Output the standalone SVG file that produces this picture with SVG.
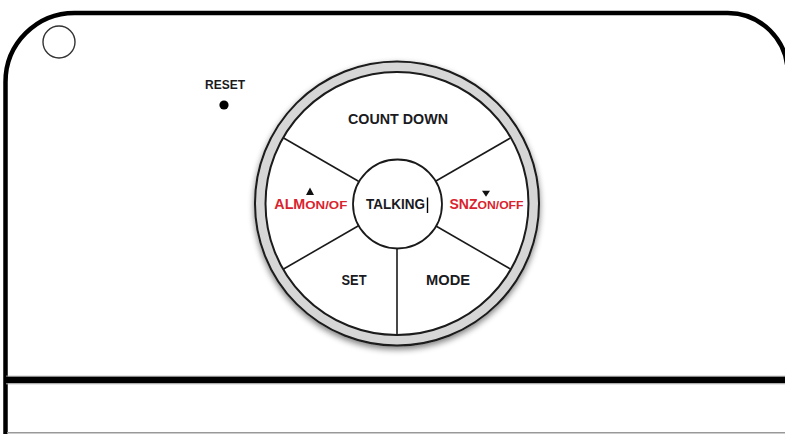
<svg xmlns="http://www.w3.org/2000/svg" width="785" height="434" viewBox="0 0 785 434">
  <defs>
    <style>
      .lbl { font-family: "Liberation Sans", Arial, sans-serif; font-weight: bold; fill: #1a1a22; }
      .red { font-family: "Liberation Sans", Arial, sans-serif; font-weight: bold; fill: #d9232e; }
      .div { stroke: #1a1a1a; stroke-width: 1.6; fill: none; }
    </style>
    <filter id="shadow" x="-20%" y="-20%" width="140%" height="140%">
      <feGaussianBlur in="SourceAlpha" stdDeviation="3"/>
      <feOffset dx="0" dy="3" result="b"/>
      <feComponentTransfer><feFuncA type="linear" slope="0.5"/></feComponentTransfer>
      <feMerge><feMergeNode/><feMergeNode in="SourceGraphic"/></feMerge>
    </filter>
  </defs>
  <rect width="785" height="434" fill="#ffffff"/>

  <g id="body">
    <path d="M5.5,440 L5.5,82 A69,69 0 0 1 74.5,13 L727.5,13 A60,60 0 0 1 787.7,73 L787.7,440" fill="none" stroke="#000" stroke-width="4.5"/>
    <line x1="6" y1="376.2" x2="785" y2="376.2" stroke="#aaa" stroke-width="1"/>
    <rect x="5" y="376.7" width="782" height="6.6" fill="#000"/>
    <line x1="6" y1="383.8" x2="785" y2="383.8" stroke="#aaa" stroke-width="1"/>
    <line x1="7" y1="432.8" x2="785" y2="432.8" stroke="#999" stroke-width="1.5"/>
    <circle cx="59" cy="42" r="16" fill="none" stroke="#333" stroke-width="1.4"/>
  </g>

  <g id="reset">
    <text class="lbl" x="225" y="89" font-size="12" text-anchor="middle" textLength="40" lengthAdjust="spacingAndGlyphs">RESET</text>
    <circle cx="224" cy="105" r="4.6" fill="#000"/>
  </g>

  <g id="ring" filter="url(#shadow)">
    <circle cx="397" cy="203.5" r="142" fill="#d6d6d6" stroke="#1a1a1a" stroke-width="2"/>
    <circle cx="397" cy="203.5" r="131.5" fill="#ffffff" stroke="#1a1a1a" stroke-width="2"/>
  </g>

  <g id="dividers">
    <line class="div" x1="358.5" y1="181.25" x2="283.6" y2="138"/>
    <line class="div" x1="435.5" y1="181.25" x2="510.4" y2="138"/>
    <line class="div" x1="358.5" y1="225.75" x2="283.6" y2="269"/>
    <line class="div" x1="435.5" y1="225.75" x2="510.4" y2="269"/>
    <line class="div" x1="397" y1="248" x2="397" y2="334.5"/>
  </g>

  <g id="count-down">
    <text class="lbl" x="398" y="124" font-size="14" text-anchor="middle" textLength="100" lengthAdjust="spacingAndGlyphs">COUNT DOWN</text>
  </g>

  <g id="talking">
    <circle cx="397.5" cy="204" r="44.5" fill="#ffffff" stroke="#1a1a1a" stroke-width="1.8"/>
    <text class="lbl" x="366" y="208.5" font-size="14" textLength="59" lengthAdjust="spacingAndGlyphs">TALKING</text>
    <line x1="427.5" y1="197.5" x2="427.5" y2="213" stroke="#000" stroke-width="1.4"/>
  </g>

  <g id="alm">
    <text class="red" x="274.3" y="208.5" font-size="14"><tspan textLength="31" lengthAdjust="spacingAndGlyphs">ALM</tspan><tspan font-size="10" textLength="42" lengthAdjust="spacingAndGlyphs">ON/OF</tspan></text>
    <polygon points="306,195 314,195 310,187.5" fill="#111"/>
  </g>

  <g id="snz">
    <text class="red" x="449.5" y="208.5" font-size="14"><tspan textLength="28" lengthAdjust="spacingAndGlyphs">SNZ</tspan><tspan font-size="10" textLength="46" lengthAdjust="spacingAndGlyphs">ON/OFF</tspan></text>
    <polygon points="482,190.7 490,190.7 486,196.8" fill="#111"/>
  </g>

  <g id="set">
    <text class="lbl" x="354" y="285" font-size="14" text-anchor="middle" textLength="25" lengthAdjust="spacingAndGlyphs">SET</text>
  </g>

  <g id="mode">
    <text class="lbl" x="448" y="285" font-size="14" text-anchor="middle" textLength="44" lengthAdjust="spacingAndGlyphs">MODE</text>
  </g>
</svg>
